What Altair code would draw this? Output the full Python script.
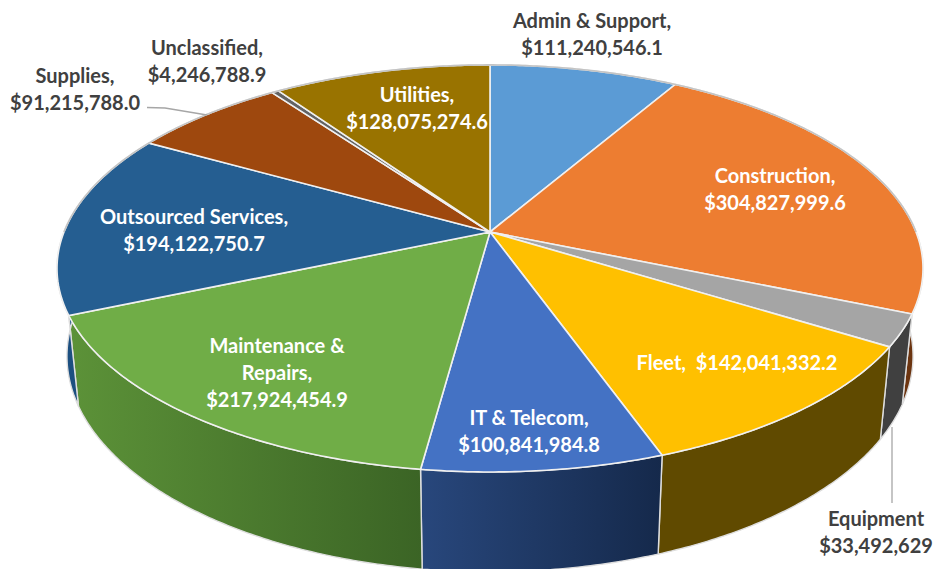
import math
import altair as alt
import pandas as pd

# ---- data ----
categories = ["Admin & Support", "Construction", "Equipment", "Fleet", "IT & Telecom",
              "Maintenance & Repairs", "Outsourced Services", "Supplies", "Unclassified", "Utilities"]
values = [111240546.1, 304827999.6, 33492629.3, 142041332.2, 100841984.8,
          217924454.9, 194122750.7, 91215788.0, 4246788.9, 128075274.6]
label_texts = ["Admin & Support,\n$111,240,546.1", "Construction,\n$304,827,999.6",
               "Equipment\n$33,492,629", "Fleet, \u00a0$142,041,332.2",
               "IT & Telecom,\n$100,841,984.8", "Maintenance &\nRepairs,\n$217,924,454.9",
               "Outsourced Services,\n$194,122,750.7", "Supplies,\n$91,215,788.0",
               "Unclassified,\n$4,246,788.9", "Utilities,\n$128,075,274.6"]
top_colors = ["#5B9BD5", "#ED7D31", "#A5A5A5", "#FFC000", "#4472C4",
              "#70AD47", "#255E91", "#9E480E", "#636363", "#997300"]
wall_colors = [("#3a6f9f", "#3a6f9f"), ("#7c3c10", "#6b3410"), ("#404040", "#404040"),
               ("#604a00", "#604a00"), ("#28477c", "#15294b"), ("#5c9238", "#3b6425"),
               ("#1c4f80", "#1c4f80"), ("#6b3008", "#6b3008"), ("#404040", "#404040"),
               ("#6b5000", "#6b5000")]

# ---- layout (page pixels) ----
W, H = 927, 561
OFF = 8
CX, CY = 490.0, 232.0
A, B, K = 426.0, 197.0, 0.179
label_pos = [(592, 21.5), (775, 176.5), (876, 519.5), (737, 363.5), (529, 418.5),
             (277, 346.5), (194, 217.5), (75, 76.5), (207, 48.5), (417, 95.5)]
label_dark = [True, False, True, False, False, False, False, True, True, False]


def top(theta):
    u, v = math.sin(theta), -math.cos(theta)
    d = 1 - K * v
    return CX + A * u / d, CY + B * v / d


def bottom(pt):
    x, y = pt
    return CX + 0.977 * (x - CX), y + 92 + 0.06 * (y - 340)


def arc(t0, t1):
    n = max(2, int(abs(t1 - t0) / 0.01))
    return [top(t0 + (t1 - t0) * i / n) for i in range(n + 1)]


def feature(coords, closed=True):
    pts = [list(p) for p in coords]
    if closed:
        pts = pts + [pts[0]]
        geom = {"type": "Polygon", "coordinates": [pts]}
    else:
        geom = {"type": "LineString", "coordinates": pts}
    return {"type": "Feature", "properties": {}, "geometry": geom}


def shape(coords, closed=True, **mark):
    return alt.Chart(alt.Data(values=[feature(coords, closed)])).mark_geoshape(**mark).project(
        type="identity", scale=1, translate=[-OFF, -OFF])


total = sum(values)
edges = [0.0]
for v in values:
    edges.append(edges[-1] + v / total * 2 * math.pi)

walls, faces = [], []
for i, cat in enumerate(categories):
    a = arc(edges[i], edges[i + 1])
    c0, c1 = wall_colors[i]
    fill = alt.Gradient(gradient="linear", x1=0, x2=1, y1=0, y2=0,
                        stops=[alt.GradientStop(color=c0, offset=0),
                               alt.GradientStop(color=c1, offset=1)])
    walls.append(shape(a + [bottom(p) for p in reversed(a)], fill=fill,
                       stroke="#dedede", strokeWidth=1.4))
for i, cat in enumerate(categories):
    a = arc(edges[i], edges[i + 1])
    faces.append(shape([(CX, CY)] + a, fill=top_colors[i], stroke="#f0f0f0", strokeWidth=1.6))

rim = shape(arc(-math.pi / 2, math.pi / 2), closed=False, filled=False, fill="transparent",
            stroke="#c4c4c4", strokeWidth=1.6)

xs = alt.Scale(domain=[OFF, OFF + W], range=[0, W])
ys = alt.Scale(domain=[OFF, OFF + H], range=[0, H])

leaders = pd.DataFrame({
    "x": [147, 165, 207, 892, 892],
    "y": [107.5, 108, 115, 427, 503],
    "g": ["s", "s", "s", "e", "e"],
})
leader = alt.Chart(leaders).mark_line(color="#a6a6a6", strokeWidth=1.3).encode(
    x=alt.X("x:Q", scale=xs, axis=None), y=alt.Y("y:Q", scale=ys, axis=None), detail="g:N")

labels = pd.DataFrame({
    "t": label_texts,
    "x": [p[0] for p in label_pos],
    "y": [p[1] for p in label_pos],
    "c": ["#404040" if d else "#ffffff" for d in label_dark],
})
text = alt.Chart(labels).mark_text(font="Lato", fontSize=20, fontWeight="bold",
                                   lineBreak="\n", lineHeight=27, align="center",
                                   baseline="middle").encode(
    x=alt.X("x:Q", scale=xs, axis=None), y=alt.Y("y:Q", scale=ys, axis=None),
    text="t:N", color=alt.Color("c:N", scale=None))

chart = alt.layer(*walls, *faces, rim, leader, text).properties(
    width=W, height=H, padding=0, background="white",
    autosize=alt.AutoSizeParams(type="none")
).configure_view(stroke=None)

chart.save("out.html", embed_options={"renderer": "svg", "actions": False})
